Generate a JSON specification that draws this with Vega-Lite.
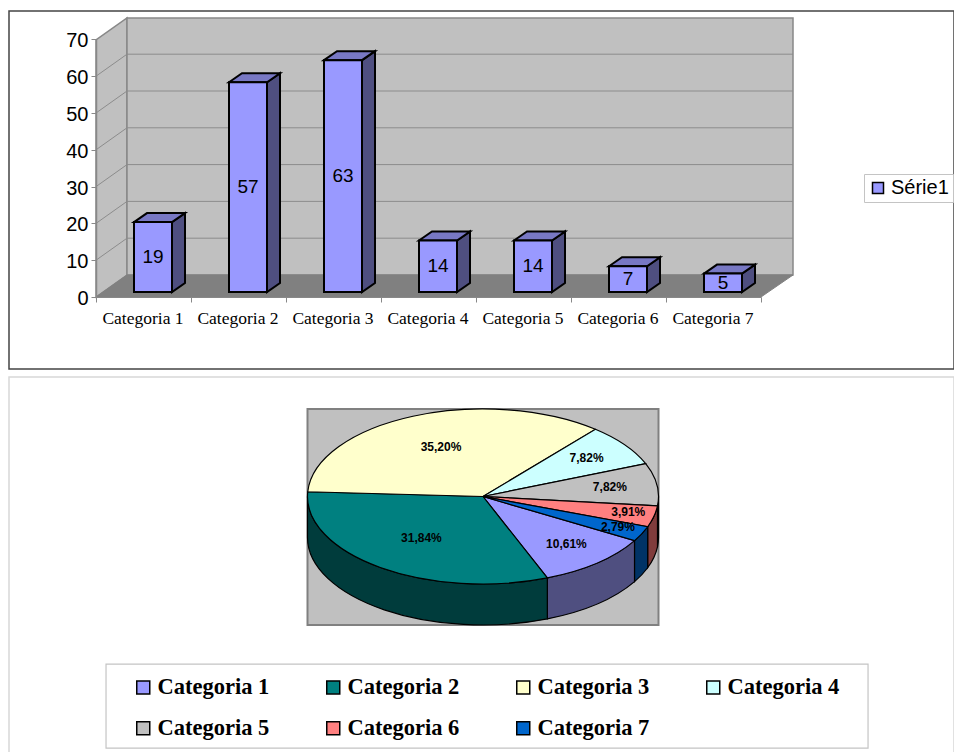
{
"$schema":"https://vega.github.io/schema/vega-lite/v6.json",
"background":"white",
"padding":{"left":8,"top":10,"right":0,"bottom":0},
"spacing":6,
"config":{"view":{"stroke":null}},
"vconcat":[
{
"width":945,"height":358,
"view":{"stroke":"#444444","strokeWidth":1.5},
"data":{"values":[
{"Categoria":"Categoria 1","value":19,"serie":"Série1"},
{"Categoria":"Categoria 2","value":57,"serie":"Série1"},
{"Categoria":"Categoria 3","value":63,"serie":"Série1"},
{"Categoria":"Categoria 4","value":14,"serie":"Série1"},
{"Categoria":"Categoria 5","value":14,"serie":"Série1"},
{"Categoria":"Categoria 6","value":7,"serie":"Série1"},
{"Categoria":"Categoria 7","value":5,"serie":"Série1"}
]},
"layer":[
{"data":{"values":[{"wall":"left"}]},
"mark":{"type":"point","filled":true,"opacity":1,"size":4,"fill":"#C0C0C0","stroke":"#888888","strokeWidth":1.5,"shape":"M0,0L31,-22L31,-279L0,-257Z"},
"encoding":{"x":{"datum":"Categoria 1","type":"nominal","bandPosition":0,"title":null,
"scale":{"type":"band","domain":["Categoria 1","Categoria 2","Categoria 3","Categoria 4","Categoria 5","Categoria 6","Categoria 7"],"range":[87,752],"paddingInner":0,"paddingOuter":0},
"axis":{"orient":"bottom","offset":-72,"labelAngle":0,"labelFont":"Liberation Serif","labelFontSize":17.5,"labelColor":"#000","labelPadding":7,"labelOffset":-1,"labelLimit":200,"tickBand":"extent","tickColor":"#888888","tickSize":5,"domainColor":"#888888","domainWidth":1,"grid":false,"zindex":1}},
"y":{"datum":0,"type":"quantitative","title":null,
"scale":{"domain":[0,70],"range":[286,28.4],"nice":false,"zero":false},
"axis":{"orient":"left","offset":-87,"values":[0,10,20,30,40,50,60,70],"labelFont":"Liberation Sans","labelFontSize":20,"labelColor":"#000","labelPadding":3,"labelOffset":1.5,"tickColor":"#888888","tickSize":5,"domainColor":"#888888","domainWidth":1.5,"grid":false,"zindex":1}}}},
{"data":{"values":[{"wall":"back"}]},
"mark":{"type":"point","filled":true,"opacity":1,"size":4,"fill":"#C0C0C0","stroke":"#888888","strokeWidth":1.5,"shape":"M31,-22L697,-22L697,-279L31,-279Z"},
"encoding":{"x":{"datum":"Categoria 1","type":"nominal","bandPosition":0,"title":null},"y":{"datum":0,"type":"quantitative","title":null}}},
{"data":{"values":[{"wall":"floor"}]},
"mark":{"type":"point","filled":true,"opacity":1,"size":4,"fill":"#808080","stroke":"#808080","strokeWidth":1,"shape":"M0,0L31,-22L697,-22L665,0Z"},
"encoding":{"x":{"datum":"Categoria 1","type":"nominal","bandPosition":0,"title":null},"y":{"datum":0,"type":"quantitative","title":null}}},
{"data":{"values":[{"tick":10},{"tick":20},{"tick":30},{"tick":40},{"tick":50},{"tick":60}]},
"mark":{"type":"point","filled":false,"opacity":1,"size":4,"stroke":"#8c8c8c","strokeWidth":1,"shape":"M0,0L31,-22L697,-22"},
"encoding":{"x":{"datum":"Categoria 1","type":"nominal","bandPosition":0,"title":null},"y":{"field":"tick","type":"quantitative","title":null}}},
{"transform":[{"calculate":"'M19,0L32,-9L32,'+(datum.value*3.68-9)+'L19,'+(datum.value*3.68)+'Z'","as":"sidePath"}],
"mark":{"type":"point","filled":true,"opacity":1,"size":4,"fill":"#4F4F80","stroke":"#000","strokeWidth":2,"xOffset":9.5,"yOffset":-5},
"encoding":{"x":{"field":"Categoria","type":"nominal","title":null},"y":{"field":"value","type":"quantitative","title":null},"shape":{"field":"sidePath","type":"nominal","scale":null,"legend":null}}},
{"mark":{"type":"point","filled":true,"opacity":1,"size":4,"fill":"#7878C4","stroke":"#000","strokeWidth":2,"xOffset":9.5,"yOffset":-5,"shape":"M-19,0L-6,-9L32,-9L19,0Z"},
"encoding":{"x":{"field":"Categoria","type":"nominal","title":null},"y":{"field":"value","type":"quantitative","title":null}}},
{"mark":{"type":"bar","size":38,"stroke":"#000","strokeWidth":2,"xOffset":9.5,"yOffset":-5,"y2Offset":-5},
"encoding":{"x":{"field":"Categoria","type":"nominal","title":null},"y":{"field":"value","type":"quantitative","title":null},
"color":{"field":"serie","type":"nominal","scale":{"domain":["Série1"],"range":["#9999FF"]},
"legend":{"orient":"none","legendX":855,"legendY":163,"title":null,"symbolType":"square","symbolSize":121,"symbolStrokeColor":"#000","symbolStrokeWidth":1.5,"labelFont":"Liberation Sans","labelFontSize":20,"labelColor":"#000","labelOffset":3,"strokeColor":"#c4c4c4","fillColor":"#fff","padding":4}}}},
{"transform":[{"calculate":"datum.value/2","as":"mid"}],
"mark":{"type":"text","font":"Liberation Sans","fontSize":19,"color":"#000","xOffset":9.5,"yOffset":-5},
"encoding":{"x":{"field":"Categoria","type":"nominal","title":null},"y":{"field":"mid","type":"quantitative","title":null},"text":{"field":"value","type":"quantitative"}}}
]
},
{
"width":945,"height":376,
"view":{"stroke":"#d8d8d8","strokeWidth":1.5},
"data":{"values":[
{"Categoria":"Categoria 1","pct":10.61},
{"Categoria":"Categoria 2","pct":31.84},
{"Categoria":"Categoria 3","pct":35.20},
{"Categoria":"Categoria 4","pct":7.82},
{"Categoria":"Categoria 5","pct":7.82},
{"Categoria":"Categoria 6","pct":3.91},
{"Categoria":"Categoria 7","pct":2.79}
]},
"transform":[
{"window":[{"op":"sum","field":"pct","as":"cum"}],"sort":[{"field":"Categoria","order":"ascending"}]},
{"calculate":"(120.3+datum.cum*3.6)*PI/180","as":"t1"},
{"calculate":"datum.t1-datum.pct*3.6*PI/180","as":"t0"},
{"calculate":"round(175.5*sin(datum.t0)*100)/100","as":"x0"},
{"calculate":"round(-87.5*cos(datum.t0)*100)/100","as":"y0"},
{"calculate":"round(175.5*sin(datum.t1)*100)/100","as":"x1"},
{"calculate":"round(-87.5*cos(datum.t1)*100)/100","as":"y1"},
{"calculate":"'M0,0L'+datum.x0+','+datum.y0+'A175.5,87.5 0 '+(datum.pct>50?1:0)+' 1 '+datum.x1+','+datum.y1+'Z'","as":"topPath"},
{"calculate":"datum.t0>=2*PI?2*PI:0","as":"wrap"},
{"calculate":"max(datum.t0-datum.wrap,PI/2)","as":"a0"},
{"calculate":"min(datum.t1-datum.wrap,3*PI/2)","as":"a1"},
{"calculate":"round(175.5*sin(datum.a0)*100)/100","as":"sx0"},
{"calculate":"round(-87.5*cos(datum.a0)*100)/100","as":"sy0"},
{"calculate":"round(175.5*sin(datum.a1)*100)/100","as":"sx1"},
{"calculate":"round(-87.5*cos(datum.a1)*100)/100","as":"sy1"},
{"calculate":"'M'+datum.sx0+','+datum.sy0+'A175.5,87.5 0 0 1 '+datum.sx1+','+datum.sy1+'L'+datum.sx1+','+(datum.sy1+41)+'A175.5,87.5 0 0 0 '+datum.sx0+','+(datum.sy0+41)+'Z'","as":"sidePath"},
{"calculate":"(datum.t0+datum.t1)/2","as":"tm"},
{"calculate":"datum.pct>20?0.6:(datum.pct>5?0.73:0.85)","as":"lr"},
{"calculate":"datum.lr*sin(datum.tm)","as":"lx"},
{"calculate":"datum.lr*cos(datum.tm)","as":"ly"},
{"calculate":"replace(format(datum.pct,'.2f'),'.',',')+'%'","as":"label"}
],
"resolve":{"scale":{"color":"independent"}},
"layer":[
{"data":{"values":[{"box":"pie"}]},"transform":[],
"mark":{"type":"rect","fill":"#C0C0C0","stroke":"#808080","strokeWidth":2},
"encoding":{"x":{"datum":-1,"type":"quantitative","axis":null,"title":null,"scale":{"domain":[-1,1],"range":[298.5,649.5],"nice":false,"zero":false}},"x2":{"datum":1},"y":{"datum":1,"type":"quantitative","axis":null,"title":null,"scale":{"domain":[-1,1],"range":[207,32],"nice":false,"zero":false}},"y2":{"datum":-1.469}}},
{"data":{"values":[{"box":"legend"}]},"transform":[],
"mark":{"type":"rect","fill":"#fff","stroke":"#c4c4c4","strokeWidth":1.2},
"encoding":{"x":{"datum":-2.148,"type":"quantitative","axis":null,"title":null},"x2":{"datum":2.194},"y":{"datum":-1.915,"type":"quantitative","axis":null,"title":null},"y2":{"datum":-2.875}}},
{"transform":[{"filter":"datum.a0<datum.a1"}],
"mark":{"type":"point","filled":true,"opacity":1,"size":4,"stroke":"#000","strokeWidth":1.2},
"encoding":{
"x":{"datum":0,"type":"quantitative","axis":null,"title":null},"y":{"datum":0,"type":"quantitative","axis":null,"title":null},
"shape":{"field":"sidePath","type":"nominal","scale":null,"legend":null},
"color":{"field":"Categoria","type":"nominal","legend":null,"scale":{"domain":["Categoria 1","Categoria 2","Categoria 3","Categoria 4","Categoria 5","Categoria 6","Categoria 7"],"range":["#4F4F80","#003C3C","#80805F","#5F8080","#606060","#803C3C","#003366"]}}}},
{"mark":{"type":"point","filled":true,"opacity":1,"size":4,"stroke":"#000","strokeWidth":1.2},
"encoding":{
"x":{"datum":0,"type":"quantitative","axis":null,"title":null},"y":{"datum":0,"type":"quantitative","axis":null,"title":null},
"shape":{"field":"topPath","type":"nominal","scale":null,"legend":null},
"color":{"field":"Categoria","type":"nominal","scale":{"domain":["Categoria 1","Categoria 2","Categoria 3","Categoria 4","Categoria 5","Categoria 6","Categoria 7"],"range":["#9999FF","#008080","#FFFFCC","#CCFFFF","#C0C0C0","#FF8080","#0066CC"]},
"legend":{"orient":"none","legendX":123,"legendY":299,"title":null,"direction":"horizontal","columns":4,"columnPadding":52,"rowPadding":18,"symbolType":"square","symbolSize":169,"symbolStrokeColor":"#000","symbolStrokeWidth":1.5,"labelFont":"Liberation Serif","labelFontWeight":"bold","labelFontSize":22.5,"labelColor":"#000","labelOffset":3,"labelLimit":300,"padding":0}}}},
{"mark":{"type":"text","font":"Liberation Sans","fontWeight":"bold","fontSize":12,"color":"#000","yOffset":-1},
"encoding":{
"x":{"field":"lx","type":"quantitative","title":null,"axis":null},
"y":{"field":"ly","type":"quantitative","title":null,"axis":null},
"text":{"field":"label","type":"nominal"}}}
]
}
]
}
